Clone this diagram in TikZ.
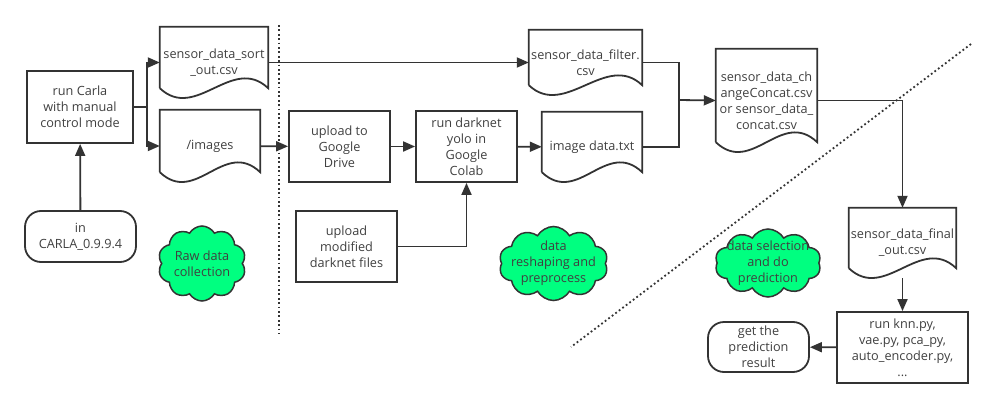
\documentclass[tikz,border=0pt]{standalone}
\usepackage{fontspec}
\setmainfont{Open Sans}
\usetikzlibrary{arrows.meta,shapes.symbols}
\definecolor{ln}{HTML}{333333}
\definecolor{tx}{HTML}{404040}
\definecolor{cg}{HTML}{00FF80}
\begin{document}
\begin{tikzpicture}[x=1pt,y=-1pt]
		\tikzset{txt/.style={align=center, text=tx, font=\fontsize{12.7}{16}\selectfont}};
		\tikzset{box/.style={txt, draw=ln, line width=1.8pt, minimum width=#1, minimum height=71pt, inner sep=0pt}};
		\tikzset{doc/.style={txt, minimum width=#1, inner sep=0pt}};
		\tikzset{term/.style={txt, draw=ln, line width=1.8pt, rounded corners=16pt, minimum width=#1, minimum height=50pt, inner sep=0pt}};
		\tikzset{cld/.style={cloud, cloud puffs=10, cloud puff arc=120, cloud ignores aspect, draw=ln, line width=1.5pt, fill=cg, minimum width=#1, inner sep=0pt}};
		\tikzset{arr/.style={draw=ln, line width=1.8pt, -{Triangle[length=12pt,width=10pt]}}};
		\tikzset{ln/.style={draw=ln, line width=1.8pt}};
		\tikzset{sep/.style={draw=ln, line width=1.8pt, dash pattern=on 1.8pt off 2.6pt}};
		\useasboundingbox (0,0) rectangle (994,407);

		\node[box=106pt, minimum height=72pt] (carla) at (80,107) {run Carla\\with manual\\control mode};
		\node[term=111pt, minimum height=51pt] (ver) at (80.5,236.5) {in\\CARLA\_0.9.9.4};
		\node[doc=108pt, minimum height=71pt] (sort) at (214,62.5) {sensor\_data\_sort\\\_out.csv};
		\node[doc=100pt, minimum height=72pt] (images) at (210,146) {/images};
		\node[box=101pt] (gdrive) at (339.5,146.5) {upload to\\Google\\Drive};
		\node[box=101pt] (yolo) at (466.5,146.5) {run darknet\\yolo in\\Google\\Colab};
		\node[box=101pt] (darknet) at (346.5,246.5) {upload\\modified\\darknet files};
		\node[doc=113pt, minimum height=65pt] (filter) at (585.5,62.5) {sensor\_data\_filter.\\csv};
		\node[doc=100pt, minimum height=70pt] (imgtxt) at (592,147) {image data.txt};
		\node[doc=101pt, minimum height=103pt] (concat) at (766.5,100.5) {sensor\_data\_ch\\angeConcat.csv\\or sensor\_data\_\\concat.csv};
		\node[doc=107pt, minimum height=70pt] (final) at (902.5,243) {sensor\_data\_final\\\_out.csv};
		\node[box=131pt] (models) at (902.5,347.5) {run knn.py,\\vae.py, pca\_py,\\auto\_encoder.py,\\...};
		\node[term=101pt] (result) at (758.5,347) {get the\\prediction\\result};

		\node[cld=88pt, minimum height=75pt, label={[txt]center:Raw data\\collection}] (raw) at (202,263.5) {};
		\node[cld=109pt, minimum height=74pt, label={[txt]center:data\\reshaping and\\preprocess}] (shape) at (553.5,263.5) {};
		\node[cld=106pt, minimum height=68pt, label={[txt]center:data selection\\and do\\prediction}] (select) at (768,263) {};

		% document outlines with wavy bottom
		\foreach \n in {sort,images,filter,imgtxt,concat,final}
			\draw[ln] ([yshift=10pt]\n.south west) -- (\n.north west) -- (\n.north east) -- ([yshift=10pt]\n.south east)
				.. controls +(-36,-34) and +(36,34) .. ([yshift=10pt]\n.south west);

		\draw[arr] (ver) -- (carla);
		\draw[ln] (carla.east) -- ++(13,0) coordinate (br);
		\draw[arr] (br) |- (sort.west);
		\draw[arr] (br) |- (images.west);
		\draw[arr] (images) -- (gdrive);
		\draw[arr] (gdrive) -- (yolo);
		\draw[arr] (yolo) -- (imgtxt);
		\draw[arr] (darknet.east) -| (yolo.south);
		\draw[arr] (sort) -- (filter);

		\coordinate (jn) at (679,100);
		\draw[ln] (filter.east) -| (jn);
		\draw[ln] (imgtxt.east) -| (jn);
		\draw[arr] (jn) -- (concat.west);
		\draw[arr] (concat.east) -| (final.north);
		\draw[arr] (final.south) -- (models.north);
		\draw[arr] (models) -- (result);

		% phase separators
		\coordinate (s1a) at (279,25);
		\coordinate (s1b) at (279,334);
		\coordinate (s2a) at (971,44);
		\coordinate (s2b) at (571,347);
		\draw[sep] (s1a) -- (s1b);
		\draw[sep] (s2a) -- (s2b);

	\end{tikzpicture}
\end{document}
